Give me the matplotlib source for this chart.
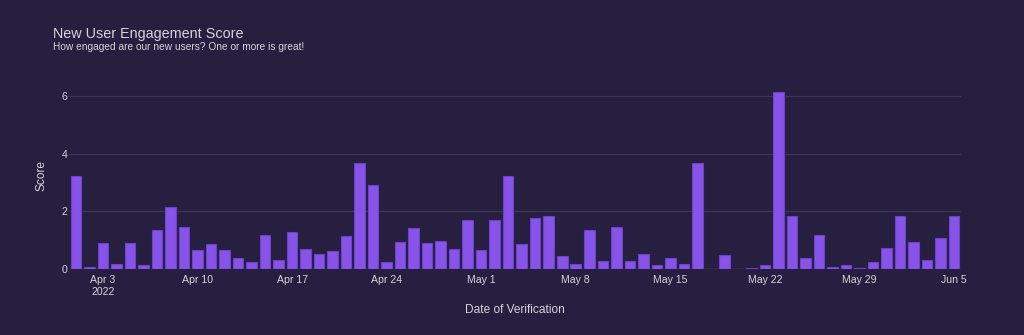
import datetime as dt
import matplotlib
matplotlib.use("Agg")
import matplotlib.pyplot as plt
import matplotlib.dates as mdates

# daily engagement score, Apr 1 - Jun 5 2022
start = dt.date(2022, 4, 1)
scores = [
    3.22, 0.06, 0.89, 0.17, 0.89, 0.13, 1.37, 2.15, 1.47, 0.65,   # Apr 1-10
    0.88, 0.65, 0.38, 0.25, 1.19, 0.31, 1.27, 0.69, 0.51, 0.61,   # Apr 11-20
    1.16, 3.69, 2.92, 0.23, 0.95, 1.44, 0.89, 0.97, 0.68, 1.71,   # Apr 21-30
    0.66, 1.70, 3.22, 0.86, 1.77, 1.86, 0.45, 0.19, 1.35, 0.28,   # May 1-10
    1.45, 0.29, 0.52, 0.14, 0.37, 0.19, 3.69, 0.0, 0.50, 0.0,     # May 11-20
    0.02, 0.13, 6.17, 1.84, 0.39, 1.19, 0.06, 0.15, 0.03, 0.25,   # May 21-30
    0.74, 1.85, 0.93, 0.32, 1.09, 1.86,                           # May 31 - Jun 5
]
dates = [start + dt.timedelta(days=i) for i in range(len(scores))]
tick_dates = [dt.date(2022, 4, 3) + dt.timedelta(days=7 * k) for k in range(10)]
tick_labels = [d.strftime("%b ") + str(d.day) for d in tick_dates]
tick_labels[0] += "\n2022"

bg = "#261f3f"
txt = "#d6d2de"
plt.rcParams["font.family"] = ["Liberation Sans", "DejaVu Sans"]

fig = plt.figure(figsize=(10.24, 3.35), dpi=100, facecolor=bg)
ax = fig.add_axes([0.0676, 0.197, 0.8706, 0.558], facecolor=bg)

ax.bar(dates, scores, width=0.78, color="#8753e8", edgecolor="#6e42c8",
       linewidth=0.8, zorder=3)

ax.set_xlim(mdates.date2num(start) - 0.5, mdates.date2num(dates[-1]) + 0.5)
ax.set_ylim(0, 6.5)
ax.set_yticks([0, 2, 4, 6])
ax.set_xticks(tick_dates)
ax.set_xticklabels(tick_labels, linespacing=1.35)
ax.tick_params(axis="both", length=0, colors=txt, labelsize=7.6)
ax.tick_params(axis="x", pad=4)
ax.tick_params(axis="y", pad=1.5)
ax.grid(axis="y", color="#3c3650", linewidth=0.9, zorder=0)
ax.axhline(0, color="#45405a", linewidth=1.0, zorder=1)
for s in ax.spines.values():
    s.set_visible(False)

ax.set_xlabel("Date of Verification", color=txt, fontsize=8.6, labelpad=5)
ax.set_ylabel("Score", color=txt, fontsize=8.6, labelpad=10)

fig.text(53 / 1024, 1 - 34 / 335, "New User Engagement Score", color=txt,
         fontsize=10.4, va="center", ha="left")
fig.text(53 / 1024, 1 - 47 / 335,
         "How engaged are our new users? One or more is great!",
         color=txt, fontsize=7.3, va="center", ha="left")

fig.savefig("out.png", dpi=100, facecolor=bg)
